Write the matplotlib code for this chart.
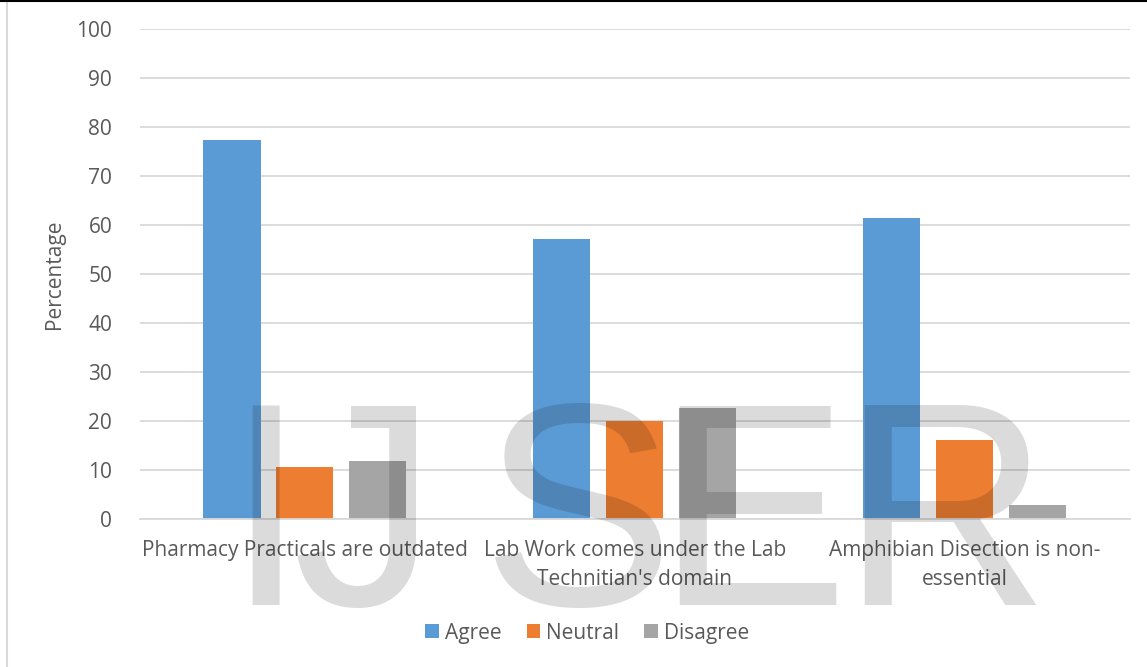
import numpy as np
import matplotlib.pyplot as plt

categories = ["Pharmacy Practicals are outdated",
              "Lab Work comes under the Lab\nTechnitian's domain",
              "Amphibian Disection is non-\nessential"]
series = ["Agree", "Neutral", "Disagree"]
agree = [77.2, 57.2, 61.3]
neutral = [10.6, 20.0, 16.0]
disagree = [11.9, 22.7, 2.9]
colors = ["#5B9BD5", "#ED7D31", "#A5A5A5"]

plt.rcParams['font.family'] = ['Open Sans', 'DejaVu Sans']
text_color = "#595959"

fig = plt.figure(figsize=(11.47, 6.67), dpi=100)
ax = fig.add_axes([0.122, 0.222, 0.863, 0.735])

x = np.arange(len(categories))
width = 0.173
step = 0.221
for i, (name, vals) in enumerate(zip(series, [agree, neutral, disagree])):
    ax.bar(x + (i - 1) * step, vals, width, color=colors[i], label=name, zorder=2)

ax.set_xlim(-0.5, 2.5)
ax.set_ylim(0, 100)
ax.set_yticks(range(0, 101, 10))
ax.yaxis.grid(True, color="#D9D9D9", linewidth=1.3, zorder=0)
ax.set_axisbelow(True)
for s in ["top", "right", "left"]:
    ax.spines[s].set_visible(False)
ax.spines["bottom"].set_color("#D9D9D9")
ax.spines["bottom"].set_linewidth(1.3)
ax.tick_params(axis="y", length=0, labelsize=15, colors=text_color, pad=20)
ax.set_xticks(x)
ax.set_xticklabels(categories, fontsize=15, color=text_color, linespacing=1.5)
ax.tick_params(axis="x", length=0, pad=15)
ax.set_ylabel("Percentage", fontsize=15, color=text_color, labelpad=8)

ax.legend(loc="center", bbox_to_anchor=(0.452, -0.233), ncol=3, frameon=False,
          fontsize=15, handlelength=0.65, handleheight=0.65, handletextpad=0.3,
          columnspacing=1.2, labelcolor=text_color)

# watermark
for ch, cx in zip("IJSER", [266, 365, 578, 752, 945]):
    fig.text(cx / 1147, 1 - 605 / 667, ch, fontsize=208, family="Liberation Sans",
             color="black", alpha=0.14, ha="center", va="baseline", zorder=10)

# chart border
fig.add_artist(plt.Line2D([7 / 1147, 7 / 1147], [0, 1], color="#D9D9D9", lw=1.5))
fig.add_artist(plt.Line2D([0, 1], [0.999, 0.999], color="black", lw=1.5))

fig.savefig("out.png", dpi=100)
